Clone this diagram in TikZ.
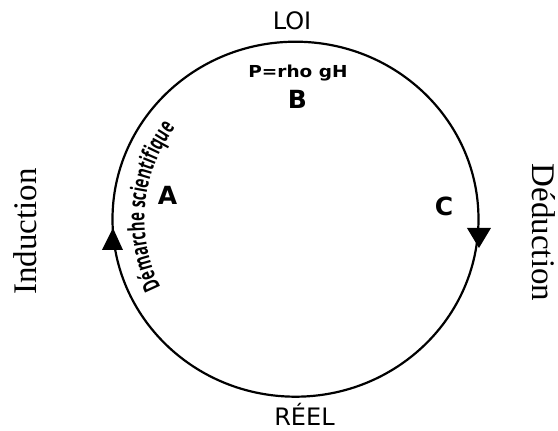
\documentclass[tikz,border=0pt]{standalone}
\usepackage{fontspec}
\setmainfont{Liberation Serif}
\newfontfamily\dvs{DejaVu Sans}
\newfontfamily\dvswide[FakeStretch=1.12]{DejaVu Sans}
\newfontfamily\narrowfont[FakeStretch=0.65]{Open Sans}
\usetikzlibrary{decorations.text}
\begin{document}
\begin{tikzpicture}[x=1pt,y=1pt,
  lbl/.style={font=\dvs\fontsize{24}{24}\selectfont, inner sep=0, anchor=base},
  letter/.style={font=\dvs\bfseries\fontsize{25}{25}\selectfont, inner sep=0, anchor=base},
  lawtext/.style={font=\dvswide\bfseries\fontsize{16.5}{16.5}\selectfont, inner sep=0, anchor=base},
  side/.style={font=\fontsize{33}{33}\selectfont, inner sep=0, anchor=base},
  ring/.style={line width=2.2pt},
  tip/.style={fill=black}]
\useasboundingbox (-295.5,-211.8) rectangle (262.5,219.2);
\draw[ring] (0,0) ellipse [x radius=183, y radius=177.5];
\node[lbl] (loi) at (-3.5,189.2) {LOI};
\node[lbl] (reel) at (9,-206.8) {RÉEL};
\node[lawtext] (law) at (2.5,141.2) {P=rho gH};
\node[letter] (b) at (2,110.9) {B};
\node[letter] (a) at (-128,14.2) {A};
\node[letter] (c) at (148.5,3.7) {C};
\node[side, rotate=90] (ind) at (-258.5,-12.3) {Induction};
\node[side, rotate=-90] (ded) at (237.5,-13.3) {Déduction};
\fill[tip] (-182.5,-8.8) -- (-193.5,-30.8) -- (-172.5,-30.8) -- cycle;
\fill[tip] (171.5,-8.8) -- (195.5,-8.8) -- (183.5,-28.8) -- cycle;
\path[decorate, decoration={text along path, text align=center,
  text={|\narrowfont\bfseries\fontsize{23}{23}\selectfont|Démarche scientifique}}]
  (214.75:151) arc[start angle=214.75, end angle=134.75, radius=151];
\end{tikzpicture}
\end{document}
